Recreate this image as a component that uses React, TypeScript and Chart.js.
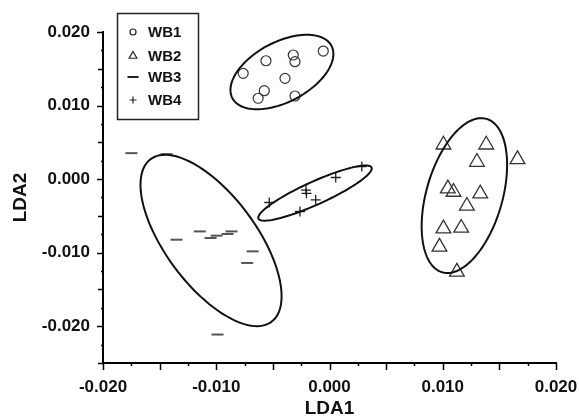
import React, { useEffect, useRef } from 'react';
import { Chart, registerables } from 'chart.js';

Chart.register(...registerables);

// ---- data ----
const seriesNames = ['WB1', 'WB2', 'WB3', 'WB4'];

const wb1X = [-0.00055, -0.00561, -0.0032, -0.00305, -0.00762, -0.00393, -0.00576, -0.0063, -0.00305];
const wb1Y = [0.01741, 0.01609, 0.01687, 0.01596, 0.01438, 0.0137, 0.01202, 0.01099, 0.0113];

const wb2X = [0.01006, 0.01384, 0.0166, 0.01302, 0.01045, 0.01095, 0.01331, 0.01213, 0.01006, 0.01163, 0.00971, 0.01125];
const wb2Y = [0.00467, 0.00467, 0.00269, 0.00232, -0.0013, -0.00175, -0.00198, -0.00365, -0.00673, -0.00664, -0.00921, -0.01261];

const wb3X = [-0.01749, -0.01439, -0.01351, -0.01145, -0.0105, -0.00997, -0.009, -0.00865, -0.00679, -0.00727, -0.00989];
const wb3Y = [0.00353, 0.00339, -0.00824, -0.00711, -0.00801, -0.00769, -0.00746, -0.00711, -0.00982, -0.0114, -0.02113];

const wb4X = [0.00285, 0.00055, -0.00208, -0.00203, -0.00122, -0.00532, -0.00261];
const wb4Y = [0.00171, 0.00022, -0.00149, -0.00193, -0.00281, -0.00318, -0.0044];

// confidence ellipses: centre and two conjugate semi-axis vectors (data units)
const ellipseCenterX = [-0.0042, 0.01191, -0.01046, -0.00128];
const ellipseCenterY = [0.01456, -0.00224, -0.00834, -0.0019];
const ellipseMajorX = [0.004371, 0.00195, 0.005333, 0.004992];
const ellipseMajorY = [0.003567, 0.010434, -0.011061, 0.003475];
const ellipseMinorX = [0.001246, 0.00323, -0.00322, 0.00042];
const ellipseMinorY = [-0.003594, -0.001421, -0.003656, -0.001421];

const xTickValues = [-0.02, -0.01, 0, 0.01, 0.02];
const yTickValues = [-0.02, -0.01, 0, 0.01, 0.02];
const xTickMarks = [-0.02, -0.0175, -0.015, -0.0125, -0.01, -0.0075, -0.005, -0.0025, 0, 0.0025, 0.005, 0.0075, 0.01, 0.0125, 0.015, 0.0175, 0.02];
const yTickMarks = [-0.025, -0.0225, -0.02, -0.0175, -0.015, -0.0125, -0.01, -0.0075, -0.005, -0.0025, 0, 0.0025, 0.005, 0.0075, 0.01, 0.0125, 0.015, 0.0175, 0.02];

const FONT = '"Liberation Sans", Arial, sans-serif';

function toPts(xs: number[], ys: number[]) {
  return xs.map((x, i) => ({ x, y: ys[i] }));
}

function drawSymbol(ctx: CanvasRenderingContext2D, style: string, x: number, y: number, r: number) {
  ctx.beginPath();
  if (style === 'circle') {
    ctx.arc(x, y, r, 0, Math.PI * 2);
  } else if (style === 'triangle') {
    ctx.moveTo(x, y - r);
    ctx.lineTo(x + r * Math.sin((2 * Math.PI) / 3), y - r * Math.cos((2 * Math.PI) / 3));
    ctx.lineTo(x + r * Math.sin((4 * Math.PI) / 3), y - r * Math.cos((4 * Math.PI) / 3));
    ctx.closePath();
  } else if (style === 'line') {
    ctx.moveTo(x - r, y);
    ctx.lineTo(x + r, y);
  } else {
    ctx.moveTo(x - r, y);
    ctx.lineTo(x + r, y);
    ctx.moveTo(x, y - r);
    ctx.lineTo(x, y + r);
  }
  ctx.stroke();
}

const ellipsePlugin = {
  id: 'ellipses',
  afterDatasetsDraw(chart: any) {
    const { ctx, scales } = chart;
    const xs = scales.x;
    const ys = scales.y;
    ctx.save();
    ctx.strokeStyle = '#111';
    ctx.lineWidth = 2;
    for (let i = 0; i < ellipseCenterX.length; i++) {
      const cx = xs.getPixelForValue(ellipseCenterX[i]);
      const cy = ys.getPixelForValue(ellipseCenterY[i]);
      const ux = xs.getPixelForValue(ellipseCenterX[i] + ellipseMajorX[i]) - cx;
      const uy = ys.getPixelForValue(ellipseCenterY[i] + ellipseMajorY[i]) - cy;
      const vx = xs.getPixelForValue(ellipseCenterX[i] + ellipseMinorX[i]) - cx;
      const vy = ys.getPixelForValue(ellipseCenterY[i] + ellipseMinorY[i]) - cy;
      ctx.beginPath();
      const n = 120;
      for (let k = 0; k <= n; k++) {
        const t = (k / n) * Math.PI * 2;
        const px = cx + ux * Math.cos(t) + vx * Math.sin(t);
        const py = cy + uy * Math.cos(t) + vy * Math.sin(t);
        if (k === 0) ctx.moveTo(px, py);
        else ctx.lineTo(px, py);
      }
      ctx.closePath();
      ctx.stroke();
    }
    ctx.restore();
  },
};

const tickPlugin = {
  id: 'tickMarks',
  afterDraw(chart: any) {
    const { ctx, scales, chartArea } = chart;
    ctx.save();
    ctx.strokeStyle = '#000';
    ctx.lineWidth = 1.5;
    xTickMarks.forEach((v, i) => {
      const px = Math.round(scales.x.getPixelForValue(v)) + 0.5;
      const len = i % 2 === 0 ? 7 : 3;
      ctx.beginPath();
      ctx.moveTo(px, chartArea.bottom);
      ctx.lineTo(px, chartArea.bottom + len);
      ctx.stroke();
    });
    yTickMarks.forEach((v, i) => {
      const py = Math.round(scales.y.getPixelForValue(v)) + 0.5;
      const len = i % 4 === 2 ? 6 : i % 2 === 0 ? 5 : 2;
      ctx.beginPath();
      ctx.moveTo(chartArea.left, py);
      ctx.lineTo(chartArea.left - len, py);
      ctx.stroke();
    });
    ctx.restore();
  },
};

const legendStyles = ['circle', 'triangle', 'line', 'cross'];
const legendRadii = [3, 4.5, 5.5, 3.5];
const legendRowY = [32, 56, 77, 100];

const legendPlugin = {
  id: 'boxLegend',
  afterDraw(chart: any) {
    const { ctx } = chart;
    ctx.save();
    ctx.strokeStyle = '#222';
    ctx.lineWidth = 1.5;
    ctx.strokeRect(117.5, 13.5, 81, 106);
    ctx.font = `bold 15px ${FONT}`;
    ctx.fillStyle = '#111';
    ctx.textBaseline = 'middle';
    ctx.textAlign = 'left';
    seriesNames.forEach((name, i) => {
      ctx.strokeStyle = '#222';
      ctx.lineWidth = legendStyles[i] === 'line' ? 2 : 1.2;
      drawSymbol(ctx, legendStyles[i], 133, legendRowY[i], legendRadii[i]);
      ctx.fillText(name, 148, legendRowY[i] + 1);
    });
    ctx.restore();
  },
};

export default function App() {
  const ref = useRef<HTMLCanvasElement>(null);
  useEffect(() => {
    if (!ref.current) return;
    const transparent = 'rgba(0,0,0,0)';
    const chart = new Chart(ref.current, {
      type: 'scatter',
      data: {
        datasets: [
          {
            label: seriesNames[0],
            data: toPts(wb1X, wb1Y),
            pointStyle: 'circle',
            pointRadius: 5,
            borderColor: '#333',
            backgroundColor: transparent,
            borderWidth: 1.2,
          },
          {
            label: seriesNames[1],
            data: toPts(wb2X, wb2Y),
            pointStyle: 'triangle',
            pointRadius: 8.5,
            borderColor: '#333',
            backgroundColor: transparent,
            borderWidth: 1.3,
          },
          {
            label: seriesNames[2],
            data: toPts(wb3X, wb3Y),
            pointStyle: 'line',
            pointRadius: 6,
            borderColor: '#555',
            backgroundColor: transparent,
            borderWidth: 2,
          },
          {
            label: seriesNames[3],
            data: toPts(wb4X, wb4Y),
            pointStyle: 'cross',
            pointRadius: 5,
            borderColor: '#222',
            backgroundColor: transparent,
            borderWidth: 1.3,
          },
        ],
      },
      options: {
        animation: false,
        responsive: false,
        devicePixelRatio: 1,
        layout: { padding: { top: 32, right: 23, left: 0, bottom: 0 } },
        plugins: { legend: { display: false }, tooltip: { enabled: false } },
        scales: {
          x: {
            type: 'linear',
            min: -0.02,
            max: 0.02,
            afterBuildTicks: (s: any) => {
              s.ticks = xTickValues.map((v) => ({ value: v }));
            },
            afterFit: (s: any) => {
              s.height = 55;
              s.paddingLeft = 0;
              s.paddingRight = 0;
            },
            ticks: {
              callback: (v: any) => Number(v).toFixed(3),
              font: { family: FONT, size: 17, weight: 'bold' },
              color: '#111',
              padding: 7,
              maxRotation: 0,
              autoSkip: false,
            },
            grid: { display: true, drawOnChartArea: false, drawTicks: true, tickLength: 7, tickColor: transparent },
            border: { display: true, color: '#000', width: 2 },
            title: {
              display: true,
              text: 'LDA1',
              font: { family: FONT, size: 19, weight: 'bold', lineHeight: 1 },
              color: '#111',
              padding: { top: 0, bottom: 0 },
            },
          },
          y: {
            type: 'linear',
            min: -0.025,
            max: 0.02,
            afterBuildTicks: (s: any) => {
              s.ticks = yTickValues.map((v) => ({ value: v }));
            },
            afterFit: (s: any) => {
              s.width = 103;
              s.paddingTop = 0;
              s.paddingBottom = 0;
            },
            ticks: {
              callback: (v: any) => Number(v).toFixed(3),
              font: { family: FONT, size: 17, weight: 'bold' },
              color: '#111',
              padding: 6,
              autoSkip: false,
            },
            grid: { display: true, drawOnChartArea: false, drawTicks: true, tickLength: 7, tickColor: transparent },
            border: { display: true, color: '#000', width: 2 },
            title: {
              display: true,
              text: 'LDA2',
              font: { family: FONT, size: 19, weight: 'bold' },
              color: '#111',
              padding: { top: 9, bottom: 0 },
            },
          },
        },
      },
      plugins: [ellipsePlugin, tickPlugin, legendPlugin],
    } as any);
    return () => chart.destroy();
  }, []);
  return (
    <div style={{ position: 'fixed', left: 0, top: 0, width: 579, height: 418, background: '#fff' }}>
      <canvas ref={ref} width={579} height={418} style={{ width: 579, height: 418 }} />
    </div>
  );
}
